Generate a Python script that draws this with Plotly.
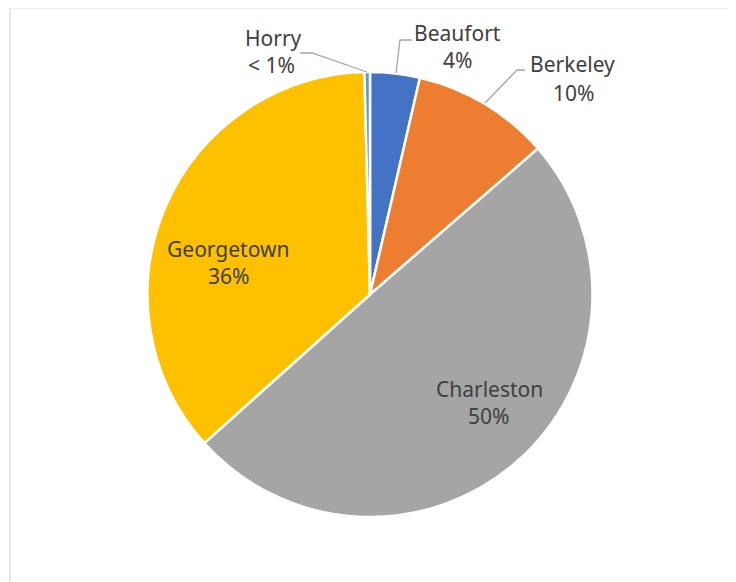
import plotly.graph_objects as go

W, H = 736, 582
OFF = 8  # page body margin in the browser

counties = ["Beaufort", "Berkeley", "Charleston", "Georgetown", "Horry"]
shares = [3.6, 10.0, 49.7, 36.2, 0.4]
pct_labels = ["4%", "10%", "50%", "36%", "< 1%"]
colors = ["#4472C4", "#ED7D31", "#A5A5A5", "#FFC000", "#5B9BD5"]

# label line centres (pixels on the page) - layout only
label_pos = {
    "Beaufort": ((457.5, 33), (457.5, 60)),
    "Berkeley": ((572.5, 64), (573, 92.5)),
    "Charleston": ((489, 388.5), (488.5, 416.5)),
    "Georgetown": ((228, 249), (228, 276)),
    "Horry": ((273, 37.5), (271.5, 65.5)),
}
# leader lines (pixels)
leaders = [
    [(300, 53), (312, 53), (367, 72)],
    [(412, 40), (400, 40), (396, 73)],
    [(525, 70), (517, 70), (485, 103)],
]

def px(x):
    return (x - OFF) / W

def py(y):
    return 1 - (y - OFF) / H

cx, cy, r = 370, 294.5, 222.5

fig = go.Figure(go.Pie(
    labels=counties,
    values=shares,
    sort=False,
    direction="clockwise",
    rotation=0,
    marker=dict(colors=colors, line=dict(color="white", width=2.5)),
    textinfo="none",
    hoverinfo="label+percent",
    domain=dict(x=[px(cx - r), px(cx + r)], y=[py(cy + r), py(cy - r)]),
    showlegend=False,
))

font = dict(family="Noto Sans, Liberation Sans, sans-serif", size=21, color="#404040")
for name, pct in zip(counties, pct_labels):
    (x1, y1), (x2, y2) = label_pos[name]
    for txt, x, y in ((name, x1, y1), (pct, x2, y2)):
        fig.add_annotation(x=px(x), y=py(y), xref="paper", yref="paper",
                           text=txt, showarrow=False, font=font,
                           xanchor="center", yanchor="middle")

shapes = []
for pts in leaders:
    path = "M " + " L ".join(f"{px(x)},{py(y)}" for x, y in pts)
    shapes.append(dict(type="path", path=path, xref="paper", yref="paper",
                       line=dict(color="#A6A6A6", width=1.3)))
shapes.append(dict(type="rect", xref="paper", yref="paper",
                   x0=px(10), x1=px(731), y0=py(620), y1=py(8),
                   line=dict(color="#D9D9D9", width=1.2)))

fig.update_layout(width=W, height=H, margin=dict(l=0, r=0, t=0, b=0),
                  paper_bgcolor="white", plot_bgcolor="white", shapes=shapes)

fig.write_html("out.html")
